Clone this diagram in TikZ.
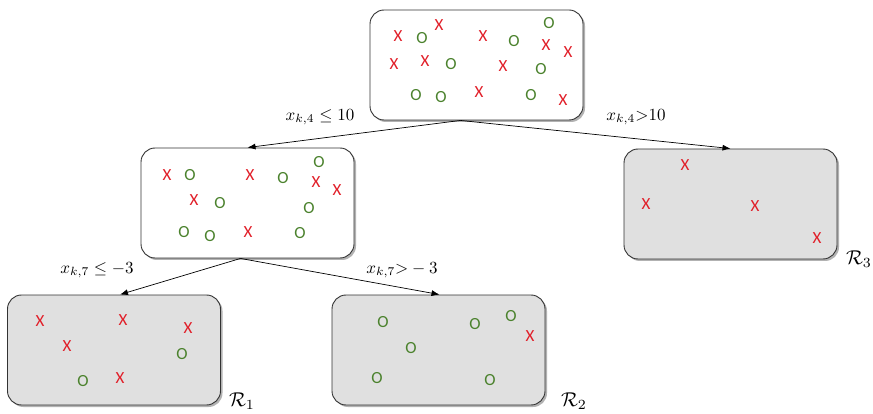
\documentclass[tikz,border=0pt]{standalone}
\usepackage{graphicx}
\usepackage{fontspec}
\newfontfamily\markfont{Carlito}
\usetikzlibrary{shadows,arrows.meta}
\definecolor{markred}{RGB}{225,30,40}
\definecolor{markgreen}{RGB}{75,130,45}
\newcommand{\myedgelab}[1]{\scalebox{1.7}{#1}}
\newcommand{\myregionlab}[1]{\scalebox{2.0}{#1}}
\tikzset{
  box/.style={draw=black!80, line width=0.9pt, rounded corners=14pt, minimum width=213pt, minimum height=110pt, inner sep=0pt,
    drop shadow={shadow xshift=2pt, shadow yshift=-2pt, opacity=0.5, fill=black!60}},
  leaf/.style={box, fill=black!12},
  inner/.style={box, fill=white},
  xm/.style={text=markred, font=\markfont\fontsize{17}{17}\selectfont, inner sep=0pt},
  om/.style={text=markgreen, font=\markfont\fontsize{17}{17}\selectfont, inner sep=0pt},
  arr/.style={draw=black, line width=0.7pt, -{Latex[length=8pt,width=6pt]}},
  lab/.style={inner sep=0pt},
  rlab/.style={inner sep=0pt}
}
\begin{document}
\begin{tikzpicture}[x=1pt,y=-1pt]
\useasboundingbox (0,0) rectangle (873,414);
% boxes
\node[inner] (top) at (476.5,65) {};
\node[inner] (mid) at (247.5,203) {};
\node[leaf] (right) at (730.5,204) {};
\node[leaf] (bl) at (114,350) {};
\node[leaf] (bm) at (438.5,350) {};
% arrows
\draw[arr] ([xshift=-16pt]top.south) -- (mid.north);
\draw[arr] ([xshift=-16pt]top.south) -- (right.north);
\draw[arr] ([xshift=-7pt]mid.south) -- ([xshift=6pt]bl.north);
\draw[arr] ([xshift=-7pt]mid.south) -- ([xshift=1pt]bm.north);
% labels
\node[lab] (l1) at (320,117) {\myedgelab{$x_{k,4}\leq 10$}};
\node[lab] (l2) at (636,117) {\myedgelab{$x_{k,4}{>}10$}};
\node[lab] (l3) at (97,270) {\myedgelab{$x_{k,7}\leq -3$}};
\node[lab] (l4) at (402,270) {\myedgelab{$x_{k,7}{>}-3$}};
\node[rlab] (r1) at (242,401) {\myregionlab{$\mathcal{R}_1$}};
\node[rlab] (r2) at (574,401) {\myregionlab{$\mathcal{R}_2$}};
\node[rlab] (r3) at (859,259) {\myregionlab{$\mathcal{R}_3$}};
% top marks
\foreach \p [count=\i] in {(398,36),(439,25),(483,36),(546,45),(568,52),(394,64),(425,61),(503,66),(479,92),(563,100)}
  \node[xm] (tx\i) at \p {X};
\foreach \p [count=\i] in {(422,38),(514,41),(549,23),(451,64),(541,69),(416,95),(441,97),(531,95)}
  \node[om] (to\i) at \p {O};
% middle marks
\foreach \p [count=\i] in {(167,175),(250,175),(316,182),(337,190),(194,200),(248,232)}
  \node[xm] (mx\i) at \p {X};
\foreach \p [count=\i] in {(190,175),(283,178),(319,162),(220,203),(309,208),(184,232),(210,236),(300,233)}
  \node[om] (mo\i) at \p {O};
% right marks
\foreach \p [count=\i] in {(685,165),(646,204),(755,206),(817,238)}
  \node[xm] (rx\i) at \p {X};
% bottom-left marks
\foreach \p [count=\i] in {(40,321),(123,320),(188,328),(67,346),(120,378)}
  \node[xm] (bx\i) at \p {X};
\foreach \p [count=\i] in {(182,354),(83,381)}
  \node[om] (bo\i) at \p {O};
% bottom-middle marks
\foreach \p [count=\i] in {(530,336)}
  \node[xm] (cx\i) at \p {X};
\foreach \p [count=\i] in {(383,322),(475,324),(511,316),(411,348),(377,378),(490,380)}
  \node[om] (co\i) at \p {O};
\end{tikzpicture}
\end{document}
